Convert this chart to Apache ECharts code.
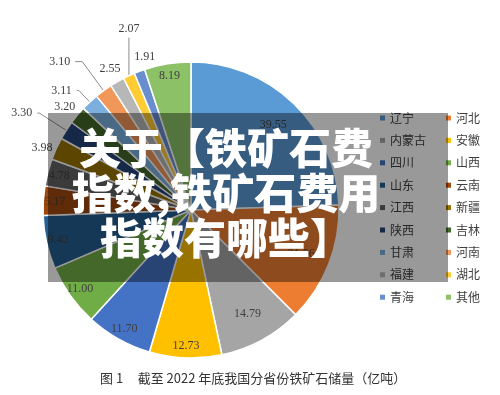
<!DOCTYPE html>
<html>
<head>
<meta charset="utf-8">
<script src="https://cdn.jsdelivr.net/npm/echarts@6/dist/echarts.min.js"></script>
<style>
  html, body { margin: 0; padding: 0; background: #fff; }
  #main { width: 500px; height: 395px; }
</style>
</head>
<body>
<div id="main"></div>
<script>
// 截至2022年底分省份铁矿石储量（亿吨）
const provinces = ["辽宁", "河北", "内蒙古", "安徽", "四川", "山西", "山东", "云南", "江西",
  "新疆", "陕西", "吉林", "甘肃", "河南", "福建", "湖北", "青海", "其他"];
const reserves = [39.55, 21.06, 14.79, 12.73, 11.70, 11.00, 9.42, 5.17, 4.78,
  3.98, 3.30, 3.20, 3.11, 3.10, 2.55, 2.07, 1.91, 8.19];
const sliceColors = ["#5b9bd5", "#ed7d31", "#a5a5a5", "#ffc000", "#4472c4", "#70ad47",
  "#255e91", "#9e480e", "#636363", "#997300", "#264478", "#43682b",
  "#7cafdd", "#f1975a", "#b7b7b7", "#ffcd33", "#698ed0", "#8cc168"];
const caption = "图 1     截至 2022 年底我国分省份铁矿石储量（亿吨）";
const headline = ["关于【铁矿石费", "指数,铁矿石费用", "指数有哪些】"];

// 小扇区标签放外面：[length, length2, 显示引线]
const outerLabels = {
  "新疆": [2, -3, false],
  "陕西": [32, 2, true],
  "吉林": [13, -13, false],
  "甘肃": [16, 2, true],
  "河南": [36, 7, true],
  "福建": [15, -16, false],
  "湖北": [10, 0, true],
  "青海": [15, -26, false]
};
const bigLabels = ["辽宁", "河北", "内蒙古"];
const verticalLeader = "湖北"; // 这个标签竖直放在扇区正上方

const R = 148;
const C = [191, 210];
const labelFont = { fontFamily: "Liberation Serif", fontSize: 12, color: "#404040" };

const myChart = echarts.init(document.getElementById("main"));

// 透明的环只用来摆放数值标签
function labelRing(names, inner) {
  return {
    type: "pie",
    radius: [inner, R],
    center: C,
    startAngle: 90,
    clockwise: true,
    silent: true,
    avoidLabelOverlap: false,
    legendHoverLink: false,
    itemStyle: { color: "rgba(0,0,0,0)", borderWidth: 0 },
    emphasis: { disabled: true },
    label: Object.assign({ formatter: p => p.value.toFixed(2) }, labelFont),
    labelLine: { show: false, lineStyle: { color: "#8c8c8c", width: 1 } },
    labelLayout: function (params) {
      if (provinces[params.dataIndex] !== verticalLeader || !params.labelLinePoints) return {};
      const p0 = params.labelLinePoints[0];
      return {
        x: p0[0],
        y: p0[1] - 47,
        align: "center",
        verticalAlign: "middle",
        labelLinePoints: [p0, [p0[0], p0[1] - 38], [p0[0], p0[1] - 38]]
      };
    },
    data: provinces.map((name, i) => {
      const item = { name: name, value: reserves[i] };
      const o = outerLabels[name];
      if (!names.includes(name)) {
        item.label = { show: false };
      } else if (o) {
        item.label = { show: true, position: "outside" };
        item.labelLine = { show: o[2], length: o[0], length2: o[1] };
      } else {
        item.label = { show: true, position: "inside" };
      }
      return item;
    })
  };
}

const legendBase = {
  orient: "vertical",
  top: 111,
  padding: 0,
  icon: "rect",
  itemWidth: 5,
  itemHeight: 5,
  itemGap: 8.4,
  selectedMode: false,
  itemStyle: { borderWidth: 0 },
  textStyle: { fontFamily: "Noto Sans CJK SC", fontSize: 12, color: "#404040", lineHeight: 14 }
};

function legendData(col) {
  return provinces
    .map((name, i) => ({ name: name, itemStyle: { color: sliceColors[i], borderWidth: 0 } }))
    .filter((d, i) => i % 2 === col);
}

myChart.setOption({
  animation: false,
  title: {
    text: caption,
    left: 100,
    top: 372,
    padding: 0,
    textStyle: { fontFamily: "Noto Sans CJK SC", fontSize: 13, fontWeight: "normal", color: "#333" }
  },
  legend: [
    Object.assign({ left: 380, data: legendData(0) }, legendBase),
    Object.assign({ left: 446, data: legendData(1) }, legendBase)
  ],
  series: [
    {
      type: "pie",
      radius: [0, R],
      center: C,
      startAngle: 90,
      clockwise: true,
      silent: true,
      label: { show: false },
      labelLine: { show: false },
      itemStyle: { borderColor: "#fff", borderWidth: 1.5 },
      data: provinces.map((name, i) => ({ name: name, value: reserves[i], itemStyle: { color: sliceColors[i] } }))
    },
    labelRing(bigLabels, R * 0.56),
    labelRing(provinces.filter(p => !bigLabels.includes(p)), R * 0.8)
  ],
  graphic: [
    {
      type: "rect",
      z: 100,
      shape: { x: 48, y: 113, width: 400, height: 169 },
      style: { fill: "rgba(0,0,0,0.4)" }
    },
    {
      type: "text",
      z: 101,
      x: 226,
      y: 193,
      style: {
        text: headline.join("\n"),
        fill: "#fff",
        fontFamily: "Noto Sans CJK SC",
        fontSize: 42,
        fontWeight: 900,
        lineHeight: 45,
        align: "center",
        verticalAlign: "middle",
        shadowColor: "rgba(0,0,0,0.6)",
        shadowBlur: 3,
        shadowOffsetX: 1,
        shadowOffsetY: 1
      }
    }
  ]
});
</script>
</body>
</html>
